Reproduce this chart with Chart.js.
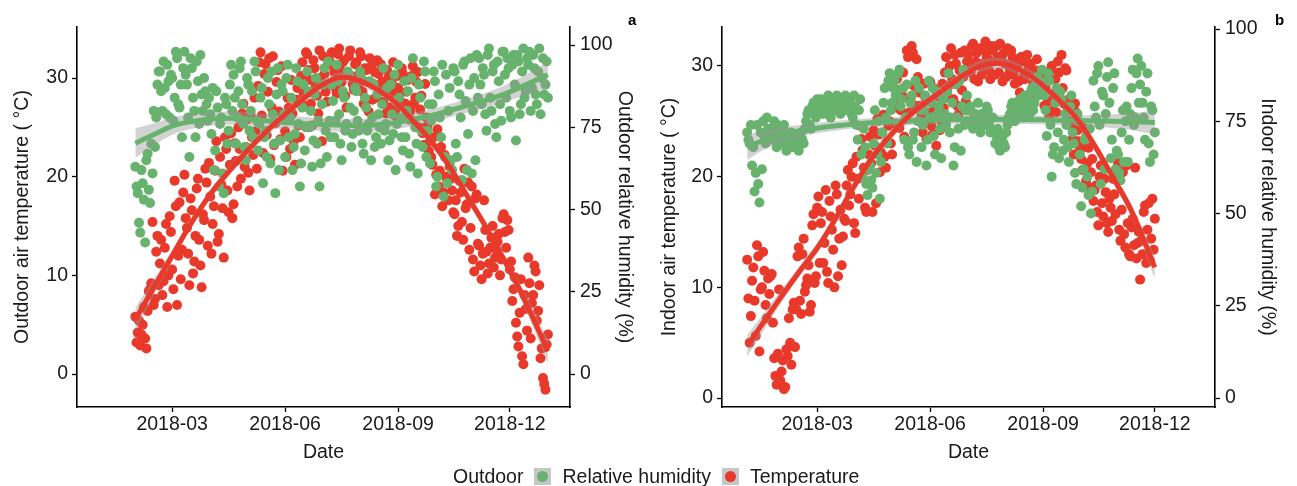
<!DOCTYPE html>
<html>
<head>
<meta charset="utf-8">
<title>Outdoor and indoor temperature and relative humidity, 2018</title>
<script src="https://cdn.jsdelivr.net/npm/chart.js"></script>
<style>
  html, body { margin: 0; padding: 0; background: #fff; }
  body { width: 1297px; height: 486px; position: relative; overflow: hidden;
         font-family: 'Liberation Sans', Arial, Helvetica, sans-serif; color: #1a1a1a; }
  canvas { position: absolute; top: 0; }
  .tag { position: absolute; top: 12px; font-size: 15px; font-weight: bold; line-height: 15px; color: #000; }
  #legend { position: absolute; left: 453px; top: 465px; display: flex; align-items: center;
            font-size: 19.5px; line-height: 22px; }
  .key { width: 17px; height: 17px; background: #c6c6c6; position: relative; margin: 0 11px; }
  .key i { position: absolute; left: 3px; top: 3px; width: 11px; height: 11px; border-radius: 50%; }
</style>
</head>
<body>
<canvas id="panelA" width="648" height="470" style="left:0"></canvas>
<canvas id="panelB" width="649" height="470" style="left:648px"></canvas>
<div class="tag" style="left:628px">a</div>
<div class="tag" style="left:1275px">b</div>
<div id="legend">
  <span>Outdoor</span>
  <span class="key"><i style="background:#67b36d"></i></span>
  <span>Relative humidity</span>
  <span class="key"><i style="background:#e8392b"></i></span>
  <span>Temperature</span>
</div>
<script>
// x axis is day of year 2018 (0 = 1 Jan)
const xTickDays = [59, 151, 243, 334];
const xTickLabels = ['2018-03', '2018-06', '2018-09', '2018-12'];
const tempTicks = [0, 10, 20, 30];
const rhTicks = [0, 25, 50, 75, 100];

// panel a: outdoor daily readings from day 29 (30 Jan).
// the first array holds days 29, 31, 33 ... and the "Between" array days 30, 32, 34 ...
const outdoorStart = 29;
const outdoorTemp = [
  5.8, 4.2, 2.9, 5.0, 3.6, 6.4, 8.6, 15.4, 7.6, 14.0,
  11.2, 8.0, 12.8, 6.8, 16.0, 10.6, 19.6, 7.0, 17.4, 12.6,
  20.2, 14.8, 9.0, 16.6, 11.4, 18.8, 13.6, 8.8, 15.6, 19.4,
  21.4, 12.2, 17.0, 23.6, 14.2, 19.2, 11.8, 22.8, 16.4, 24.4,
  17.2, 21.6, 25.0, 19.8, 27.4, 23.0, 20.4, 26.2, 22.2, 24.6,
  29.2, 32.6, 22.4, 31.4, 28.6, 21.8, 32.2, 25.4, 30.8, 23.8,
  20.6, 24.6, 28.0, 22.8, 26.4, 21.2, 29.0, 24.0, 31.6, 27.2,
  32.4, 29.8, 25.2, 31.0, 28.2, 32.8, 23.6, 30.4, 27.6, 31.8,
  32.6, 30.6, 28.4, 33.0, 29.6, 31.8, 27.0, 32.2, 30.2, 28.8,
  31.6, 29.0, 32.2, 27.4, 30.8, 26.6, 31.2, 29.4, 28.0, 30.4,
  31.4, 27.6, 26.4, 30.0, 28.4, 31.6, 26.8, 29.0, 27.6, 30.4,
  27.4, 29.8, 26.6, 31.2, 28.0, 30.6, 26.8, 24.4, 29.4, 25.2,
  23.6, 21.2, 18.2, 24.8, 20.6, 17.0, 22.2, 19.4, 21.0, 18.6,
  16.2, 14.0, 19.6, 15.4, 20.8, 17.2, 12.6, 19.0, 10.4, 18.2,
  13.0, 9.6, 17.6, 12.4, 11.2, 13.8, 10.8, 12.6, 14.2, 11.6,
  16.2, 12.8, 14.6, 11.4, 8.6, 5.2, 2.8, 9.6, 1.0, 6.6,
  11.8, 3.6, 8.0, 10.4, 6.4, 1.6, -0.4, -1.6, 4.0
];
const outdoorTempBetween = [
  3.2, 5.4, 4.0, 6.8, 2.6, 8.4, 9.2, 7.0, 12.4, 9.0,
  13.6, 9.4, 15.2, 10.0, 14.4, 8.6, 17.0, 12.0, 9.6, 18.4,
  15.8, 12.2, 17.8, 10.2, 14.0, 19.8, 11.0, 16.2, 20.8, 13.0,
  18.0, 15.2, 20.6, 13.4, 22.0, 16.8, 24.0, 18.6, 21.2, 15.8,
  23.4, 19.0, 22.8, 26.4, 21.0, 25.8, 18.6, 24.0, 28.0, 20.8,
  31.6, 26.2, 30.4, 24.2, 32.0, 27.0, 23.2, 29.6, 26.6, 31.2,
  25.8, 22.0, 27.0, 29.8, 23.6, 27.8, 25.2, 30.2, 28.4, 32.6,
  30.8, 27.4, 31.8, 29.2, 26.4, 30.0, 32.2, 28.6, 31.4, 29.4,
  31.2, 29.0, 32.4, 30.8, 31.6, 28.2, 30.4, 32.8, 29.4, 31.4,
  30.2, 32.6, 28.6, 31.0, 29.6, 32.0, 27.8, 30.6, 31.8, 29.0,
  29.6, 28.8, 30.8, 27.0, 29.4, 26.2, 30.2, 28.2, 31.0, 26.0,
  28.6, 25.8, 30.2, 27.4, 29.6, 25.0, 28.2, 23.2, 26.0, 22.6,
  22.0, 24.0, 20.2, 19.0, 23.0, 18.4, 20.0, 17.6, 19.8, 16.4,
  17.6, 15.0, 18.4, 13.6, 16.8, 19.4, 14.8, 11.6, 17.8, 13.2,
  11.0, 12.2, 14.6, 10.2, 12.8, 15.0, 11.8, 13.4, 10.0, 15.8,
  14.4, 15.6, 10.6, 7.4, 9.8, 3.8, 6.2, 1.8, 8.0, 4.4,
  9.2, 7.2, 11.0, 5.4, 9.0, 2.6, -1.0, 3.0
];
const outdoorRH = [
  63, 55, 43, 58, 40, 67, 52, 61, 69, 88,
  92, 80, 87, 94, 78, 90, 84, 96, 81, 72,
  98, 88, 66, 93, 80, 95, 76, 85, 90, 82,
  84, 73, 62, 86, 57, 78, 55, 82, 74, 94,
  91, 70, 86, 95, 76, 65, 88, 80, 72, 92,
  68, 84, 58, 74, 90, 64, 79, 55, 93, 71,
  86, 66, 94, 78, 62, 73, 89, 57, 81, 68,
  92, 75, 63, 85, 70, 57, 82, 93, 66, 77,
  88, 72, 94, 79, 65, 84, 76, 91, 69, 80,
  86, 74, 90, 67, 81, 76, 65, 88, 72, 79,
  70, 93, 76, 65, 88, 73, 62, 94, 78, 68,
  72, 86, 63, 96, 75, 61, 84, 69, 92, 74,
  64, 82, 89, 60, 78, 94, 66, 58, 87, 62,
  92, 66, 85, 59, 95, 62, 88, 61, 90, 97,
  96, 82, 91, 74, 99, 80, 94, 72, 89, 77,
  98, 84, 93, 78, 97, 71, 95, 82, 99, 86,
  94, 80, 97, 85, 92, 79, 96, 88, 84
];
const outdoorRHBetween = [
  57, 46, 62, 53, 65, 56, 70, 80, 78, 92,
  86, 95, 79, 89, 91, 77, 98, 82, 88, 93,
  91, 78, 96, 84, 72, 89, 97, 80, 86, 77,
  79, 87, 68, 81, 76, 61, 84, 70, 88, 80,
  84, 78, 93, 82, 69, 90, 74, 86, 95, 77,
  76, 87, 72, 66, 82, 92, 70, 85, 62, 88,
  79, 90, 72, 84, 69, 93, 76, 64, 88, 75,
  86, 80, 71, 90, 77, 64, 88, 74, 95, 72,
  83, 77, 89, 70, 86, 74, 92, 81, 73, 87,
  77, 92, 70, 84, 74, 89, 78, 69, 85, 75,
  82, 74, 87, 71, 79, 91, 76, 84, 72, 89,
  80, 67, 90, 77, 70, 88, 74, 95, 66, 82,
  77, 92, 57, 85, 72, 54, 91, 80, 65, 93,
  70, 89, 78, 94, 83, 73, 96, 80, 65, 84,
  88, 93, 79, 97, 84, 92, 76, 95, 82, 98,
  91, 96, 80, 94, 88, 97, 79, 92, 84, 96,
  98, 87, 93, 82, 99, 90, 85, 95
];

// panel b: indoor daily readings from day 2 (3 Jan), split the same way
const indoorStart = 2;
const indoorTemp = [
  12.5, 5.0, 10.6, 8.8, 13.8, 4.2, 10.0, 11.5, 7.2, 9.4,
  11.2, 3.6, 1.2, 9.8, 2.4, 0.8, 4.4, 7.2, 3.0, 8.6,
  8.0, 13.6, 7.6, 14.4, 10.2, 12.0, 8.4, 16.6, 11.0, 18.2,
  15.8, 12.2, 18.8, 10.4, 16.4, 13.4, 19.2, 11.0, 17.0, 14.6,
  16.0, 20.6, 18.4, 21.2, 14.9, 19.8, 24.6, 22.4, 17.2, 20.6,
  23.6, 16.8, 22.8, 25.2, 20.4, 24.0, 21.8, 23.2, 25.0, 22.0,
  26.6, 28.8, 24.4, 27.4, 23.6, 31.4, 25.8, 31.8, 28.2, 30.6,
  27.6, 25.6, 28.4, 23.4, 26.8, 24.6, 28.0, 22.8, 27.2, 25.0,
  26.2, 30.8, 28.2, 31.6, 27.0, 30.2, 25.6, 31.2, 29.0, 26.8,
  31.0, 29.4, 32.0, 30.4, 28.6, 31.6, 29.8, 32.2, 30.6, 28.8,
  31.4, 29.2, 30.8, 32.0, 28.6, 30.2, 31.6, 29.6, 30.8, 28.4,
  29.8, 27.6, 30.4, 28.8, 31.0, 27.4, 29.4, 28.2, 30.6, 27.8,
  29.2, 26.4, 28.6, 25.4, 30.0, 27.2, 25.8, 29.4, 31.0, 26.6,
  29.6, 27.0, 24.6, 22.0, 25.8, 23.2, 21.6, 24.4, 19.6, 22.6,
  20.4, 17.8, 19.2, 15.6, 21.0, 16.4, 18.6, 15.0, 17.2, 19.8,
  16.6, 21.2, 14.2, 20.4, 13.6, 15.8, 12.8, 16.2, 20.8, 14.0,
  10.7, 13.0, 17.4, 15.2, 12.4, 18.0, 16.2
];
const indoorTempBetween = [
  9.0, 7.4, 11.8, 5.6, 12.8, 9.8, 13.2, 8.4, 10.8, 11.0,
  6.8, 2.0, 4.0, 1.6, 3.4, 1.0, 3.8, 5.0, 8.0, 4.6,
  12.8, 8.8, 13.0, 9.6, 10.8, 7.8, 15.6, 10.4, 17.2, 12.2,
  16.8, 14.0, 11.4, 17.8, 15.2, 10.0, 18.4, 14.4, 12.0, 16.2,
  19.2, 17.4, 20.0, 15.8, 21.8, 18.0, 23.4, 20.8, 16.8, 22.0,
  21.2, 24.2, 17.6, 23.8, 22.2, 25.6, 20.8, 24.6, 23.0, 26.2,
  24.8, 27.8, 26.0, 29.4, 25.2, 30.8, 27.0, 31.2, 26.4, 29.0,
  26.4, 24.0, 27.2, 25.8, 28.6, 23.8, 26.2, 27.4, 24.2, 28.4,
  29.4, 27.2, 30.0, 28.8, 31.0, 26.4, 29.6, 27.8, 31.4, 30.4,
  30.0, 31.8, 28.8, 31.2, 30.2, 29.2, 31.4, 30.8, 29.6, 31.8,
  30.4, 31.8, 29.4, 30.6, 31.2, 29.0, 30.0, 31.4, 29.2, 30.2,
  28.6, 30.8, 29.0, 27.2, 29.8, 30.2, 28.4, 29.6, 28.0, 29.0,
  27.6, 28.2, 26.8, 29.6, 26.0, 28.8, 30.4, 27.8, 28.0, 29.8,
  26.2, 25.0, 23.4, 26.6, 24.2, 22.4, 20.6, 23.0, 21.2, 19.0,
  21.6, 18.8, 16.8, 20.0, 17.6, 19.8, 15.8, 18.0, 16.0, 18.4,
  20.6, 15.2, 17.0, 14.8, 21.0, 13.0, 15.4, 13.8, 12.6, 15.0,
  14.2, 16.8, 12.2, 17.6, 14.4, 13.4
];
const indoorRH = [
  72, 69, 63, 56, 74, 53, 62, 71, 76, 70,
  73, 75, 68, 71, 69, 74, 67, 70, 72, 68,
  70, 67, 72, 69, 75, 78, 73, 80, 76, 79,
  81, 77, 79, 82, 76, 80, 78, 81, 77, 80,
  82, 78, 80, 76, 79, 70, 81, 60, 68, 55,
  63, 57, 78, 66, 54, 72, 84, 69, 88, 80,
  86, 83, 89, 81, 70, 85, 66, 82, 72, 64,
  84, 68, 78, 63, 86, 80, 71, 83, 79, 65,
  81, 74, 88, 76, 63, 85, 73, 67, 89, 78,
  75, 79, 73, 77, 80, 72, 76, 74, 78, 72,
  76, 69, 73, 67, 71, 68, 74, 77, 80, 75,
  78, 81, 76, 82, 79, 77, 84, 80, 87, 83,
  89, 82, 71, 86, 60, 68, 84, 65, 81, 70,
  74, 64, 82, 69, 58, 75, 52, 62, 71, 55,
  50, 86, 76, 90, 58, 82, 77, 91, 65, 84,
  62, 66, 59, 78, 75, 64, 77, 89, 76, 92,
  85, 80, 70, 88, 64, 78, 72
];
const indoorRHBetween = [
  70, 74, 68, 61, 58, 72, 75, 69, 73, 71,
  70, 72, 74, 69, 73, 70, 71, 68, 69, 71,
  68, 71, 70, 73, 77, 74, 79, 77, 81, 78,
  79, 80, 78, 80, 81, 79, 82, 79, 81, 78,
  80, 81, 77, 82, 74, 78, 66, 73, 58, 62,
  59, 69, 61, 75, 64, 80, 76, 86, 78, 84,
  82, 88, 79, 84, 76, 68, 80, 70, 86, 75,
  78, 74, 82, 70, 76, 84, 66, 77, 73, 81,
  77, 83, 72, 80, 68, 76, 86, 79, 74, 82,
  78, 74, 76, 75, 73, 77, 75, 79, 74, 76,
  72, 71, 68, 70, 69, 72, 76, 79, 77, 78,
  80, 77, 79, 78, 81, 83, 78, 85, 82, 86,
  85, 78, 88, 74, 66, 80, 72, 83, 67, 77,
  68, 79, 72, 61, 77, 66, 57, 70, 60, 73,
  56, 79, 88, 74, 83, 62, 87, 80, 70, 88,
  67, 61, 72, 64, 79, 70, 84, 74, 88, 80,
  90, 76, 83, 69, 79, 66
];

// smoothed fits and their confidence half-widths
const fitDaysA = [29, 45, 60, 75, 90, 105, 120, 135, 150, 165, 180, 195, 210, 225, 240, 255, 270, 285, 300, 315, 330, 345, 365];
const fitTempA = [5.5, 9.0, 12.2, 15.4, 18.2, 20.5, 22.6, 24.5, 26.2, 27.8, 29.2, 30.05, 29.8, 28.9, 27.6, 25.7, 23.6, 21.0, 17.9, 14.8, 11.4, 7.8, 2.3];
const bandTempA = [1.2, 0.8, 0.6, 0.5, 0.5, 0.5, 0.5, 0.5, 0.5, 0.5, 0.5, 0.5, 0.5, 0.5, 0.5, 0.5, 0.5, 0.5, 0.5, 0.5, 0.6, 0.8, 1.2];
const fitRhA = [70.2, 73.0, 75.5, 76.8, 77.5, 77.8, 77.6, 77.0, 76.5, 76.2, 75.9, 75.7, 75.6, 75.8, 76.4, 77.4, 78.6, 80.1, 81.7, 83.3, 85.2, 87.6, 91.0];
const bandRhA = [4.5, 3.3, 2.6, 2.2, 2.0, 2.0, 2.0, 2.0, 2.0, 2.0, 2.0, 2.0, 2.0, 2.0, 2.0, 2.0, 2.0, 2.0, 2.1, 2.3, 2.6, 3.0, 4.0];

const fitDaysB = [2, 15, 30, 45, 60, 75, 90, 105, 120, 135, 150, 165, 180, 195, 210, 225, 240, 255, 270, 285, 300, 315, 334];
const fitTempB = [4.7, 6.8, 9.2, 11.5, 13.7, 16.4, 19.3, 21.9, 23.9, 25.6, 26.9, 28.1, 29.3, 30.1, 30.2, 29.6, 28.5, 27.0, 25.3, 22.8, 19.9, 16.9, 11.8];
const bandTempB = [1.0, 0.8, 0.6, 0.5, 0.5, 0.5, 0.5, 0.5, 0.5, 0.5, 0.5, 0.5, 0.5, 0.5, 0.5, 0.5, 0.5, 0.5, 0.5, 0.5, 0.5, 0.6, 1.0];
const fitRhB = [68.0, 69.8, 71.4, 72.4, 73.2, 73.8, 74.3, 74.7, 74.9, 75.1, 75.3, 75.5, 75.6, 75.6, 75.5, 75.5, 75.4, 75.3, 75.2, 75.1, 75.0, 74.9, 74.7];
const bandRhB = [3.5, 2.6, 2.0, 1.6, 1.4, 1.3, 1.2, 1.2, 1.2, 1.2, 1.2, 1.2, 1.2, 1.2, 1.2, 1.2, 1.2, 1.3, 1.4, 1.6, 1.9, 2.3, 3.2];

const RED = '#e8392b';
const GREEN = '#67b36d';
const BAND = 'rgba(150,150,150,0.42)';
const INK = '#1a1a1a';
const FONT = { family: "'Liberation Sans', Arial, Helvetica, sans-serif", size: 19.5 };
const AXIS_GRID = { display: true, drawOnChartArea: false, drawTicks: true, tickLength: 5, tickColor: '#000', tickWidth: 1.3 };
const AXIS_BORDER = { display: true, color: '#000', width: 1.6 };

function everyOtherDay(start, values) {
  return values.map((v, i) => ({ x: start + 2 * i, y: v }));
}
function daily(start, odd, even) {
  return everyOtherDay(start, odd).concat(everyOtherDay(start + 1, even));
}
function curve(days, values, spread, sign) {
  return days.map((d, i) => ({ x: d, y: values[i] + (spread ? sign * spread[i] : 0) }));
}
function fixedTicks(list) {
  return scale => { scale.ticks = list.map(v => ({ value: v })); };
}

function drawPanel(canvasId, p) {
  const lineBase = { type: 'line', pointRadius: 0, tension: 0.4 };
  const bandBase = { type: 'line', pointRadius: 0, tension: 0.4, borderWidth: 0, borderColor: 'rgba(0,0,0,0)' };
  new Chart(document.getElementById(canvasId), {
    type: 'scatter',
    data: {
      datasets: [
        Object.assign({}, lineBase, { data: curve(p.fitDays, p.fitTemp), borderColor: RED, borderWidth: 5, fill: false, yAxisID: 'y', order: 1 }),
        Object.assign({}, bandBase, { data: curve(p.fitDays, p.fitTemp, p.bandTemp, 1), fill: '+1', backgroundColor: BAND, yAxisID: 'y', order: 2 }),
        Object.assign({}, bandBase, { data: curve(p.fitDays, p.fitTemp, p.bandTemp, -1), fill: false, yAxisID: 'y', order: 2 }),
        Object.assign({}, lineBase, { data: curve(p.fitDays, p.fitRh), borderColor: GREEN, borderWidth: 5, fill: false, yAxisID: 'y2', order: 3 }),
        Object.assign({}, bandBase, { data: curve(p.fitDays, p.fitRh, p.bandRh, 1), fill: '+1', backgroundColor: BAND, yAxisID: 'y2', order: 4 }),
        Object.assign({}, bandBase, { data: curve(p.fitDays, p.fitRh, p.bandRh, -1), fill: false, yAxisID: 'y2', order: 4 }),
        { data: daily(p.start, p.rh, p.rhBetween), backgroundColor: GREEN, pointRadius: 5, borderWidth: 0, yAxisID: 'y2', order: 5 },
        { data: daily(p.start, p.temp, p.tempBetween), backgroundColor: RED, pointRadius: 5, borderWidth: 0, yAxisID: 'y', order: 6 }
      ]
    },
    options: {
      responsive: false,
      animation: false,
      events: [],
      layout: { padding: { top: 27, left: 0, right: 0, bottom: 0 } },
      plugins: { legend: { display: false }, tooltip: { enabled: false } },
      scales: {
        x: {
          type: 'linear', min: -18.5, max: 383,
          afterBuildTicks: fixedTicks(xTickDays),
          afterFit: s => { s.height = 63; },
          ticks: { callback: (v, i) => xTickLabels[i], font: FONT, color: INK, padding: 1, maxRotation: 0, autoSkip: false },
          grid: AXIS_GRID, border: AXIS_BORDER,
          title: { display: true, text: 'Date', font: FONT, color: INK, padding: { top: 0, bottom: 6 } }
        },
        y: {
          position: 'left', min: p.tMin, max: p.tMax,
          afterBuildTicks: fixedTicks(tempTicks),
          afterFit: s => { s.width = p.leftW; },
          ticks: { font: FONT, color: INK, padding: 4 },
          grid: AXIS_GRID, border: AXIS_BORDER,
          title: { display: true, text: p.leftTitle, font: FONT, color: INK, padding: { top: p.leftPad, bottom: 0 } }
        },
        y2: {
          position: 'right', min: p.tMin * 3, max: p.tMax * 3,
          afterBuildTicks: fixedTicks(rhTicks),
          afterFit: s => { s.width = p.rightW; },
          ticks: { font: FONT, color: INK, padding: 5 },
          grid: AXIS_GRID, border: AXIS_BORDER,
          title: { display: true, text: p.rightTitle, font: FONT, color: INK, padding: { top: p.rightPad, bottom: 0 } }
        }
      }
    }
  });
}

drawPanel('panelA', {
  start: outdoorStart, temp: outdoorTemp, tempBetween: outdoorTempBetween, rh: outdoorRH, rhBetween: outdoorRHBetween,
  fitDays: fitDaysA, fitTemp: fitTempA, bandTemp: bandTempA, fitRh: fitRhA, bandRh: bandRhA,
  tMin: -3.34, tMax: 35.17, leftW: 77, rightW: 78, leftPad: 11, rightPad: 12,
  leftTitle: 'Outdoor air temperature ( °C)', rightTitle: 'Outdoor relative humidity (%)'
});
drawPanel('panelB', {
  start: indoorStart, temp: indoorTemp, tempBetween: indoorTempBetween, rh: indoorRH, rhBetween: indoorRHBetween,
  fitDays: fitDaysB, fitTemp: fitTempB, bandTemp: bandTempB, fitRh: fitRhB, bandRh: bandRhB,
  tMin: -0.81, tMax: 33.52, leftW: 74, rightW: 82, leftPad: 10, rightPad: 18,
  leftTitle: 'Indoor air temperature ( °C)', rightTitle: 'Indoor relative humidity (%)'
});
</script>
</body>
</html>
